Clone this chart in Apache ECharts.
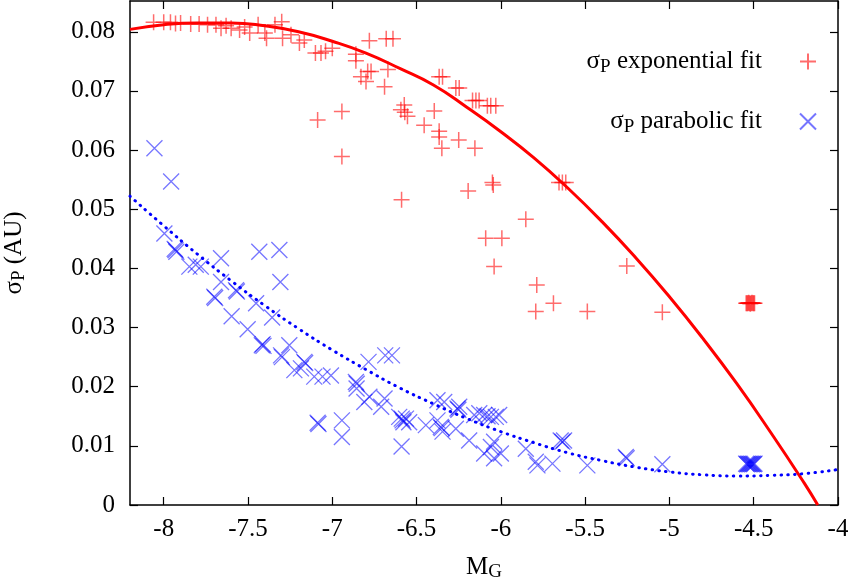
<!DOCTYPE html>
<html>
<head>
<meta charset="utf-8">
<script src="https://cdn.jsdelivr.net/npm/echarts@6/dist/echarts.min.js"></script>
<style>
html,body{margin:0;padding:0;background:#fff;}
#c{width:848px;height:582px;}
</style>
</head>
<body>
<div id="c"></div>
<script>
// ---- data ----
var xTicks = [-8, -7.5, -7, -6.5, -6, -5.5, -5, -4.5, -4];
var yTicks = [0, 0.01, 0.02, 0.03, 0.04, 0.05, 0.06, 0.07, 0.08];

// sigma_P exponential fit (red +)
var expPoints = [
  [-8.06,0.0816],[-8.00,0.0816],[-7.96,0.0816],[-7.93,0.0814],[-7.90,0.0815],[-7.84,0.0813],[-7.79,0.0813],
  [-7.74,0.0812],[-7.69,0.0812],[-7.66,0.0806],[-7.63,0.0810],[-7.60,0.0806],[-7.55,0.0803],[-7.52,0.0808],
  [-7.49,0.0798],[-7.44,0.0812],[-7.40,0.0798],[-7.39,0.0789],[-7.34,0.0812],[-7.30,0.0817],[-7.295,0.0789],
  [-7.245,0.0795],[-7.195,0.0781],[-7.166,0.0786],[-7.10,0.0764],[-7.067,0.0764],[-7.04,0.0767],[-7.00,0.0772],
  [-6.78,0.0785],[-6.68,0.0788],[-6.64,0.0788],
  [-6.86,0.0762],[-6.86,0.0751],[-6.83,0.0724],[-6.79,0.0733],[-6.77,0.0733],[-6.80,0.0716],[-6.67,0.0736],[-6.69,0.0707],
  [-6.366,0.0724],[-6.346,0.0724],[-6.267,0.0705],[-6.247,0.0705],[-6.168,0.0684],[-6.148,0.0684],[-6.129,0.0684],
  [-6.08,0.0675],[-6.06,0.0675],[-6.03,0.0675],
  [-6.573,0.0676],[-6.593,0.0668],[-6.554,0.0657],[-6.57,0.0664],
  [-6.395,0.0666],[-7.087,0.0651],[-6.943,0.0665],[-6.455,0.0642],[-6.366,0.0632],[-6.366,0.0622],[-6.25,0.0617],
  [-6.35,0.0603],[-6.154,0.0603],[-6.943,0.0589],[-6.05,0.0545],[-6.045,0.0541],[-6.194,0.0531],[-6.589,0.0516],
  [-5.852,0.0483],[-6.09,0.0451],[-5.994,0.0451],[-6.04,0.0403],[-5.787,0.0372],[-5.688,0.0341],[-5.793,0.0327],
  [-5.655,0.0545],[-5.635,0.0545],[-5.615,0.0545],
  [-5.253,0.0404],[-5.487,0.0327],[-5.042,0.0326],
  [-4.545,0.0341],[-4.540,0.0341],[-4.535,0.0341],[-4.530,0.0342],[-4.525,0.0341],[-4.520,0.0340],
  [-4.515,0.0341],[-4.510,0.0342],[-4.505,0.0341],[-4.500,0.0341],[-4.495,0.0341]
];

// sigma_P parabolic fit (blue x)
var parPoints = [
  [-8.055,0.0603],[-7.956,0.0547],[-7.996,0.0459],[-7.93,0.0431],[-7.925,0.0428],[-7.935,0.0433],[-7.848,0.0403],
  [-7.81,0.0406],[-7.78,0.0403],[-7.66,0.0417],[-7.66,0.0377],[-7.70,0.0352],[-7.695,0.0350],[-7.571,0.0363],
  [-7.566,0.0361],[-7.597,0.0319],[-7.452,0.0341],[-7.433,0.0428],[-7.314,0.0431],[-7.308,0.0377],[-7.502,0.0297],
  [-7.413,0.0272],[-7.408,0.0269],[-7.418,0.0270],[-7.357,0.0317],[-7.304,0.0253],[-7.299,0.0250],[-7.255,0.0270],
  [-7.225,0.0228],[-7.166,0.0242],[-7.161,0.0240],[-7.186,0.0231],[-7.107,0.0217],[-7.058,0.0217],[-7.008,0.0219],
  [-7.087,0.0139],[-7.082,0.0137],[-6.943,0.0143],[-6.943,0.0115],[-6.785,0.0242],[-6.686,0.0253],[-6.646,0.0253],
  [-6.86,0.0208],[-6.855,0.0205],[-6.856,0.0197],[-6.81,0.0174],[-6.78,0.0183],[-6.69,0.0180],[-6.71,0.0166],
  [-6.603,0.0149],[-6.583,0.0143],[-6.578,0.0140],[-6.588,0.0146],[-6.563,0.0146],[-6.544,0.0140],[-6.589,0.0099],
  [-6.445,0.0135],[-6.376,0.0177],[-6.336,0.0174],[-6.376,0.0143],[-6.356,0.0132],[-6.351,0.0130],[-6.346,0.0124],
  [-6.257,0.0163],[-6.252,0.0161],[-6.247,0.0166],[-6.267,0.0129],[-6.188,0.0109],[-6.158,0.0152],[-6.128,0.0155],
  [-6.099,0.0152],[-6.079,0.0150],[-6.059,0.0149],[-6.03,0.0149],[-6.01,0.0152],[-6.04,0.0107],[-6.059,0.0098],
  [-6.099,0.0087],[-6.0,0.0087],[-6.04,0.0079],[-5.852,0.0095],[-5.793,0.0073],[-5.783,0.0067],[-5.694,0.0070],
  [-5.645,0.0109],[-5.635,0.0107],[-5.625,0.0109],[-5.487,0.0067],[-5.259,0.0081],[-5.254,0.0079],[-5.042,0.0069],
  [-4.545,0.0070],[-4.540,0.0069],[-4.535,0.0070],[-4.530,0.0069],[-4.525,0.0070],[-4.520,0.0069],
  [-4.515,0.0070],[-4.510,0.0069],[-4.505,0.0070],[-4.500,0.0069],[-4.495,0.0070]
];

// fitted curves
var expCurve = [
  [-8.2,0.0804],[-8.0,0.0812],[-7.8,0.0815],[-7.6,0.0815],[-7.4,0.0810],[-7.2,0.0800],[-7.0,0.0784],
  [-6.8,0.0764],[-6.6,0.0738],[-6.4,0.0710],[-6.2,0.0672],[-6.0,0.0631],[-5.8,0.0586],[-5.6,0.0535],
  [-5.4,0.0479],[-5.2,0.0418],[-5.0,0.0352],[-4.8,0.0281],[-4.6,0.0205],[-4.4,0.0123],[-4.2,0.0037],[-4.12,0.0]
];
var parCurve = [
  [-8.2,0.0522],[-8.0,0.0472],[-7.8,0.0424],[-7.6,0.0379],[-7.4,0.0337],[-7.2,0.0298],[-7.0,0.0262],
  [-6.8,0.0229],[-6.6,0.0198],[-6.4,0.0171],[-6.2,0.0146],[-6.0,0.0124],[-5.8,0.0105],[-5.6,0.0088],
  [-5.4,0.0075],[-5.2,0.0064],[-5.0,0.0056],[-4.8,0.0051],[-4.6,0.0049],[-4.4,0.0050],[-4.2,0.0053],[-4.0,0.0060]
];

var FONT = 'Liberation Serif';
var plusPath = 'path://M0,8L16,8M8,0L8,16';
var crossPath = 'path://M0,0L16,16M16,0L0,16';

var richText = {
  a: {fontFamily: FONT, fontSize: 25, color: '#000', lineHeight: 30},
  s: {fontFamily: FONT, fontSize: 19, color: '#000', lineHeight: 10, verticalAlign: 'bottom'}
};

var chart = echarts.init(document.getElementById('c'));
var axisCommon = {
  axisLine: {show: true, onZero: false, lineStyle: {color: '#000', width: 1.5}},
  splitLine: {show: false}
};
chart.setOption({
  animation: false,
  backgroundColor: '#fff',
  grid: {left: 130, right: 10, top: 1, bottom: 77, containLabel: false, outerBoundsMode: 'none'},
  legend: [
    {
      data: ['σP exponential fit'], orient: 'vertical', align: 'right', right: 26, top: 44,
      itemWidth: 16, itemHeight: 16, selectedMode: false,
      formatter: function () { return '{a|σ}{s|P}{a| exponential fit}'; },
      textStyle: {padding: [0, 33, 0, 0], rich: richText}
    },
    {
      data: ['σP parabolic fit'], orient: 'vertical', align: 'right', right: 26, top: 104,
      itemWidth: 16, itemHeight: 16, selectedMode: false,
      formatter: function () { return '{a|σ}{s|P}{a| parabolic fit}'; },
      textStyle: {padding: [0, 33, 0, 0], rich: richText}
    }
  ],
  xAxis: [
    Object.assign({
      type: 'value', min: -8.2, max: -4, position: 'bottom',
      name: '{a|M}{s|G}', nameLocation: 'middle', nameGap: 47,
      nameTextStyle: {rich: richText},
      axisTick: {show: true, inside: true, length: 8, customValues: xTicks, lineStyle: {color: '#000', width: 1.2}},
      axisLabel: {show: true, margin: 12, customValues: xTicks, fontFamily: FONT, fontSize: 25, color: '#000',
        formatter: function (v) { return String(v); }}
    }, axisCommon),
    Object.assign({
      type: 'value', min: -8.2, max: -4, position: 'top',
      axisTick: {show: true, inside: true, length: 8, customValues: xTicks, lineStyle: {color: '#000', width: 1.2}},
      axisLabel: {show: false}
    }, axisCommon)
  ],
  yAxis: [
    Object.assign({
      type: 'value', min: 0, max: 0.0852, position: 'left',
      name: '{a|σ}{s|P}{a| (AU)}', nameLocation: 'middle', nameRotate: 90, nameGap: 101,
      nameTextStyle: {rich: richText},
      axisTick: {show: true, inside: true, length: 8, customValues: yTicks, lineStyle: {color: '#000', width: 1.2}},
      axisLabel: {show: true, margin: 15, customValues: yTicks, fontFamily: FONT, fontSize: 25, color: '#000',
        formatter: function (v) { return v === 0 ? '0' : v.toFixed(2); }}
    }, axisCommon),
    Object.assign({
      type: 'value', min: 0, max: 0.0852, position: 'right',
      axisTick: {show: true, inside: true, length: 8, customValues: yTicks, lineStyle: {color: '#000', width: 1.2}},
      axisLabel: {show: false}
    }, axisCommon)
  ],
  series: [
    {
      name: 'σP exponential fit', type: 'scatter', data: expPoints,
      symbol: plusPath, symbolSize: 16,
      itemStyle: {color: 'rgba(0,0,0,0)', borderColor: 'rgba(255,0,0,0.72)', borderWidth: 1.5},
      emphasis: {disabled: true}, z: 3
    },
    {
      name: 'σP parabolic fit', type: 'scatter', data: parPoints,
      symbol: crossPath, symbolSize: 16,
      itemStyle: {color: 'rgba(0,0,0,0)', borderColor: 'rgba(0,0,255,0.68)', borderWidth: 1.3},
      emphasis: {disabled: true}, z: 3
    },
    {
      name: 'expCurve', type: 'line', data: expCurve, smooth: true, showSymbol: false, clip: true,
      lineStyle: {color: '#ff0000', width: 3}, emphasis: {disabled: true}, z: 4
    },
    {
      name: 'parCurve', type: 'line', data: parCurve, smooth: true, showSymbol: false, clip: true,
      lineStyle: {color: '#0000ff', width: 3, type: [0.5, 6.3], cap: 'round'}, emphasis: {disabled: true}, z: 4
    }
  ]
});
</script>
</body>
</html>
